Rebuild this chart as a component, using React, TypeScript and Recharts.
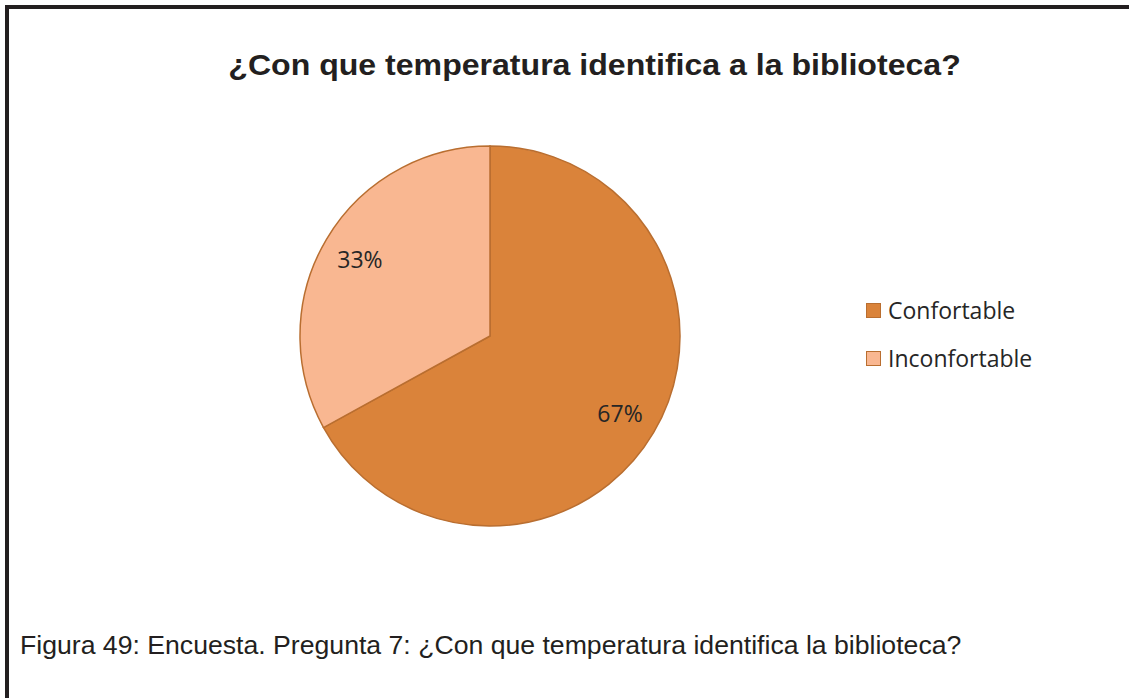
import React from "react";
import { PieChart, Pie, Cell, Legend } from "recharts";

const categories = ["Confortable", "Inconfortable"];
const values = [67, 33];
const colors = ["#DA833A", "#F9B791"];
const strokeColor = "#B96E30";

const data = categories.map((name, i) => ({ name, value: values[i] }));

const RADIAN = Math.PI / 180;

const renderLabel = (props: any) => {
  const { cx, cy, midAngle, outerRadius, value } = props;
  const r = outerRadius * 0.795;
  const x = cx + r * Math.cos(-midAngle * RADIAN);
  const y = cy + r * Math.sin(-midAngle * RADIAN);
  return (
    <text
      x={x}
      y={y}
      fill="#262626"
      textAnchor="middle"
      dominantBaseline="central"
      style={{ fontFamily: "'Open Sans', sans-serif", fontSize: 23 }}
    >
      {`${value}%`}
    </text>
  );
};

const LegendContent = () => (
  <div style={{ fontFamily: "'Open Sans', sans-serif", fontSize: 23, color: "#262626" }}>
    {categories.map((c, i) => (
      <div key={c} style={{ display: "flex", alignItems: "center", height: 48 }}>
        <div
          style={{
            width: 13,
            height: 13,
            background: colors[i],
            border: `1px solid ${strokeColor}`,
            marginRight: 7,
          }}
        />
        <span>{c}</span>
      </div>
    ))}
  </div>
);

export default function App() {
  return (
    <div
      style={{
        position: "absolute",
        left: 0,
        top: 0,
        width: 1129,
        height: 698,
        background: "#fff",
        overflow: "hidden",
      }}
    >
      <div
        style={{
          position: "absolute",
          left: 5,
          top: 5,
          width: 1200,
          height: 800,
          borderTop: "4px solid #231F20",
          borderLeft: "4px solid #231F20",
        }}
      />
      <div
        style={{
          position: "absolute",
          left: 0,
          width: 1189,
          top: 45,
          textAlign: "center",
          fontFamily: "'Liberation Sans', Arial, sans-serif",
          fontWeight: "bold",
          fontSize: 30,
          color: "#231F20",
          lineHeight: "40px",
          transform: "scaleX(1.069)",
          transformOrigin: "594px 0",
          whiteSpace: "nowrap",
        }}
      >
        ¿Con que temperatura identifica a la biblioteca?
      </div>
      <div style={{ position: "absolute", left: 0, top: 0 }}>
        <PieChart width={1129} height={698} margin={{ top: 0, right: 0, bottom: 0, left: 0 }}>
          <Pie
            data={data}
            dataKey="value"
            nameKey="name"
            cx={490}
            cy={336}
            outerRadius={190}
            startAngle={90}
            endAngle={-270}
            stroke={strokeColor}
            strokeWidth={1.5}
            label={renderLabel}
            labelLine={false}
            isAnimationActive={false}
          >
            {data.map((d, i) => (
              <Cell key={d.name} fill={colors[i]} />
            ))}
          </Pie>
          <Legend
            content={<LegendContent />}
            wrapperStyle={{ position: "absolute", left: 866, top: 286, width: 230 }}
          />
        </PieChart>
      </div>
      <div
        style={{
          position: "absolute",
          left: 20,
          top: 630,
          fontFamily: "'Liberation Sans', Arial, sans-serif",
          fontSize: 25,
          color: "#231F20",
          lineHeight: "30px",
          whiteSpace: "nowrap",
          transform: "scaleX(1.065)",
          transformOrigin: "0 0",
        }}
      >
        Figura 49: Encuesta. Pregunta 7: ¿Con que temperatura identifica la biblioteca?
      </div>
    </div>
  );
}
